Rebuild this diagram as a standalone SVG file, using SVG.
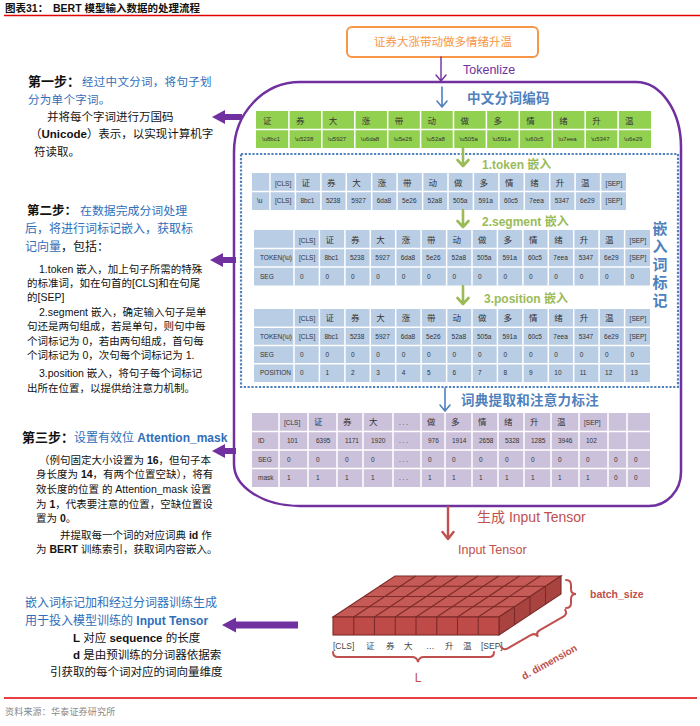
<svg xmlns="http://www.w3.org/2000/svg" width="700" height="726" viewBox="0 0 700 726">
<style>
text{font-family:"Liberation Sans","Noto Sans CJK SC",sans-serif;}
.s{font-size:6.5px;fill:#333;}
.xs{font-size:6px;fill:#333;}
.h{font-size:8.5px;fill:#333;}
.grid{stroke:#fff;stroke-width:1.5;}
.blue{fill:#2F6EBA;}
.body{font-size:10.5px;fill:#111;}
.hd{font-size:12px;}
.tc{stroke:#7B2B29;stroke-width:1.1;}
</style>
<rect width="700" height="726" fill="#fff"/>
<g id="header">
<text x="5" y="12" font-size="10.5" font-weight="bold" fill="#111">图表31：<tspan x="53">BERT 模型输入数据的处理流程</tspan></text>
<line x1="4" y1="15.5" x2="700" y2="15.5" stroke="#E00000" stroke-width="1.5"/>
</g>
<g id="source">
<line x1="4" y1="698" x2="697" y2="698" stroke="#E00000" stroke-width="1.5"/>
<text x="5" y="715" font-size="9" fill="#888" letter-spacing="0.2">资料来源：华泰证券研究所</text>
</g>
<g id="input-sentence">
<rect x="347" y="27" width="191" height="30" rx="5" fill="#fff" stroke="#F79646" stroke-width="2"/>
<text x="443" y="46" font-size="11.5" fill="#F79646" text-anchor="middle">证券大涨带动做多情绪升温</text>
</g>
<g id="process-box">
<path d="M300,82 L636,82 A45,65 0 0 1 681,147 L681,472 A32,34 0 0 1 649,506 L300,506 A66,42 0 0 1 234,464 L234,152 A66,70 0 0 1 300,82 Z" fill="none" stroke="#7030A0" stroke-width="2.5"/>
<rect x="241" y="154" width="437" height="233" fill="none" stroke="#4F81BD" stroke-width="2.2" stroke-dasharray="2.2 1.6"/>
<text x="463" y="74" font-size="12.5" fill="#7030A0">Tokenlize</text>
<text x="467" y="103" font-size="13.5" fill="#4F81BD" font-weight="bold" letter-spacing="0.3">中文分词编码</text>
<text x="461" y="405" font-size="13.5" fill="#4F81BD" font-weight="bold" letter-spacing="0.3">词典提取和注意力标注</text>
<text x="482" y="169" font-size="12" fill="#9BBB59" font-weight="bold">1.token 嵌入</text>
<text x="482" y="226" font-size="12" fill="#9BBB59" font-weight="bold">2.segment 嵌入</text>
<text x="484" y="303" font-size="12" fill="#9BBB59" font-weight="bold">3.position 嵌入</text>
<text font-size="15" fill="#4F81BD" font-weight="bold" text-anchor="middle"><tspan x="660" y="234">嵌</tspan><tspan x="660" y="252">入</tspan><tspan x="660" y="270">词</tspan><tspan x="660" y="288">标</tspan><tspan x="660" y="306">记</tspan></text>
<text x="477" y="522" font-size="14" fill="#C0504D">生成 Input Tensor</text>
<text x="458" y="554" font-size="12.5" fill="#C0504D">Input Tensor</text>
</g>
<g id="unicode-table">
<rect x="256" y="111" width="395" height="37" fill="#92D050"/>
<g class="grid">
<line x1="256" y1="129.5" x2="651" y2="129.5"/>
<path d="M288.9,111V148M321.8,111V148M354.8,111V148M387.7,111V148M420.6,111V148M453.5,111V148M486.4,111V148M519.3,111V148M552.3,111V148M585.2,111V148M618.1,111V148"/>
</g>
<text class="h" y="123.5"><tspan x="263">证</tspan><tspan x="295.9">券</tspan><tspan x="328.8">大</tspan><tspan x="361.8">涨</tspan><tspan x="394.7">带</tspan><tspan x="427.6">动</tspan><tspan x="460.5">做</tspan><tspan x="493.4">多</tspan><tspan x="526.3">情</tspan><tspan x="559.3">绪</tspan><tspan x="592.2">升</tspan><tspan x="625.1">温</tspan></text>
<text class="xs" y="141"><tspan x="262">\u8bc1</tspan><tspan x="294.9">\u5238</tspan><tspan x="327.8">\u5927</tspan><tspan x="360.8">\u6da8</tspan><tspan x="393.7">\u5e26</tspan><tspan x="426.6">\u52a8</tspan><tspan x="459.5">\u505a</tspan><tspan x="492.4">\u591a</tspan><tspan x="525.3">\u60c5</tspan><tspan x="558.3">\u7eea</tspan><tspan x="591.2">\u5347</tspan><tspan x="624.1">\u6e29</tspan></text>
</g>
<g id="token-table">
<rect x="252" y="173" width="374" height="37" fill="#B9CDE5"/>
<g class="grid">
<line x1="252" y1="191.5" x2="626" y2="191.5"/>
<path d="M270,173V210M295.4,173V210M320.9,173V210M346.3,173V210M371.7,173V210M397.1,173V210M422.6,173V210M448,173V210M473.4,173V210M498.9,173V210M524.3,173V210M549.7,173V210M575.1,173V210M600.6,173V210"/>
</g>
<text class="s" x="275" y="185.5">[CLS]</text>
<text class="h" y="186"><tspan x="301.4">证</tspan><tspan x="326.9">券</tspan><tspan x="352.3">大</tspan><tspan x="377.7">涨</tspan><tspan x="403.1">带</tspan><tspan x="428.6">动</tspan><tspan x="454">做</tspan><tspan x="479.4">多</tspan><tspan x="504.9">情</tspan><tspan x="530.3">绪</tspan><tspan x="555.7">升</tspan><tspan x="581.1">温</tspan></text>
<text class="s" x="605.6" y="185.5">[SEP]</text>
<text class="s" y="203"><tspan x="257">\u</tspan><tspan x="275">[CLS]</tspan><tspan x="300.4">8bc1</tspan><tspan x="325.9">5238</tspan><tspan x="351.3">5927</tspan><tspan x="376.7">6da8</tspan><tspan x="402.1">5e26</tspan><tspan x="427.6">52a8</tspan><tspan x="453">505a</tspan><tspan x="478.4">591a</tspan><tspan x="503.9">60c5</tspan><tspan x="529.3">7eea</tspan><tspan x="554.7">5347</tspan><tspan x="580.1">6e29</tspan><tspan x="605.6">[SEP]</tspan></text>
</g>
<g id="segment-table">
<rect x="254" y="230" width="396" height="55.5" fill="#B9CDE5"/>
<g class="grid">
<path d="M254,248.5H650M254,267H650"/>
<path d="M294,230V285.5M319.4,230V285.5M344.9,230V285.5M370.3,230V285.5M395.7,230V285.5M421.1,230V285.5M446.6,230V285.5M472,230V285.5M497.4,230V285.5M522.9,230V285.5M548.3,230V285.5M573.7,230V285.5M599.1,230V285.5M624.6,230V285.5"/>
</g>
<text class="s" x="299" y="242.5">[CLS]</text>
<text class="h" y="243"><tspan x="325.4">证</tspan><tspan x="350.9">券</tspan><tspan x="376.3">大</tspan><tspan x="401.7">涨</tspan><tspan x="427.1">带</tspan><tspan x="452.6">动</tspan><tspan x="478">做</tspan><tspan x="503.4">多</tspan><tspan x="528.9">情</tspan><tspan x="554.3">绪</tspan><tspan x="579.7">升</tspan><tspan x="605.1">温</tspan></text>
<text class="s" x="629.6" y="242.5">[SEP]</text>
<text class="s" y="260"><tspan x="260">TOKEN(\u)</tspan><tspan x="299">[CLS]</tspan><tspan x="324.4">8bc1</tspan><tspan x="349.9">5238</tspan><tspan x="375.3">5927</tspan><tspan x="400.7">6da8</tspan><tspan x="426.1">5e26</tspan><tspan x="451.6">52a8</tspan><tspan x="477">505a</tspan><tspan x="502.4">591a</tspan><tspan x="527.9">60c5</tspan><tspan x="553.3">7eea</tspan><tspan x="578.7">5347</tspan><tspan x="604.1">6e29</tspan><tspan x="629.6">[SEP]</tspan></text>
<text class="s" y="278.5"><tspan x="260">SEG</tspan><tspan x="300">0</tspan><tspan x="325.4">0</tspan><tspan x="350.9">0</tspan><tspan x="376.3">0</tspan><tspan x="401.7">0</tspan><tspan x="427.1">0</tspan><tspan x="452.6">0</tspan><tspan x="478">0</tspan><tspan x="503.4">0</tspan><tspan x="528.9">0</tspan><tspan x="554.3">0</tspan><tspan x="579.7">0</tspan><tspan x="605.1">0</tspan><tspan x="630.6">0</tspan></text>
</g>
<g id="position-table">
<rect x="254" y="309" width="396" height="73" fill="#B9CDE5"/>
<g class="grid">
<path d="M254,327.25H650M254,345.5H650M254,363.75H650"/>
<path d="M294,309V382M319.4,309V382M344.9,309V382M370.3,309V382M395.7,309V382M421.1,309V382M446.6,309V382M472,309V382M497.4,309V382M522.9,309V382M548.3,309V382M573.7,309V382M599.1,309V382M624.6,309V382"/>
</g>
<text class="s" x="299" y="320.6">[CLS]</text>
<text class="h" y="321.2"><tspan x="325.4">证</tspan><tspan x="350.9">券</tspan><tspan x="376.3">大</tspan><tspan x="401.7">涨</tspan><tspan x="427.1">带</tspan><tspan x="452.6">动</tspan><tspan x="478">做</tspan><tspan x="503.4">多</tspan><tspan x="528.9">情</tspan><tspan x="554.3">绪</tspan><tspan x="579.7">升</tspan><tspan x="605.1">温</tspan></text>
<text class="s" x="629.6" y="320.6">[SEP]</text>
<text class="s" y="338.9"><tspan x="260">TOKEN(\u)</tspan><tspan x="299">[CLS]</tspan><tspan x="324.4">8bc1</tspan><tspan x="349.9">5238</tspan><tspan x="375.3">5927</tspan><tspan x="400.7">6da8</tspan><tspan x="426.1">5e26</tspan><tspan x="451.6">52a8</tspan><tspan x="477">505a</tspan><tspan x="502.4">591a</tspan><tspan x="527.9">60c5</tspan><tspan x="553.3">7eea</tspan><tspan x="578.7">5347</tspan><tspan x="604.1">6e29</tspan><tspan x="629.6">[SEP]</tspan></text>
<text class="s" y="357.1"><tspan x="260">SEG</tspan><tspan x="300">0</tspan><tspan x="325.4">0</tspan><tspan x="350.9">0</tspan><tspan x="376.3">0</tspan><tspan x="401.7">0</tspan><tspan x="427.1">0</tspan><tspan x="452.6">0</tspan><tspan x="478">0</tspan><tspan x="503.4">0</tspan><tspan x="528.9">0</tspan><tspan x="554.3">0</tspan><tspan x="579.7">0</tspan><tspan x="605.1">0</tspan><tspan x="630.6">0</tspan></text>
<text class="s" y="375.4"><tspan x="260">POSITION</tspan><tspan x="300">0</tspan><tspan x="325.4">1</tspan><tspan x="350.9">2</tspan><tspan x="376.3">3</tspan><tspan x="401.7">4</tspan><tspan x="427.1">5</tspan><tspan x="452.6">6</tspan><tspan x="478">7</tspan><tspan x="503.4">8</tspan><tspan x="528.9">9</tspan><tspan x="554.3">10</tspan><tspan x="579.7">11</tspan><tspan x="605.1">12</tspan><tspan x="630.6">13</tspan></text>
</g>
<g id="attention-table">
<rect x="252" y="413" width="398" height="74" fill="#CCC1DA"/>
<g class="grid">
<path d="M252,431.5H650M252,450H650M252,468.5H650"/>
<path d="M279,413V487M308,413V487M337,413V487M363,413V487M393,413V487M421,413V487M445,413V487M472,413V487M498,413V487M524,413V487M551,413V487M579,413V487M608,413V487M627,413V487"/>
</g>
<text class="s" x="284" y="424.8">[CLS]</text>
<text class="h" y="425.3"><tspan x="314">证</tspan><tspan x="343">券</tspan><tspan x="369">大</tspan></text>
<text class="s" x="399" y="425">. . .</text>
<text class="h" y="425.3"><tspan x="427">做</tspan><tspan x="451">多</tspan><tspan x="478">情</tspan><tspan x="504">绪</tspan><tspan x="530">升</tspan><tspan x="557">温</tspan></text>
<text class="s" x="584" y="424.8">[SEP]</text>
<text class="s" y="443.2"><tspan x="258">ID</tspan><tspan x="287">101</tspan><tspan x="316">6395</tspan><tspan x="345">1171</tspan><tspan x="371">1920</tspan><tspan x="399">. . .</tspan><tspan x="428">976</tspan><tspan x="452">1914</tspan><tspan x="479">2658</tspan><tspan x="505">5328</tspan><tspan x="531">1285</tspan><tspan x="558">3946</tspan><tspan x="586">102</tspan></text>
<text class="s" y="461.7"><tspan x="258">SEG</tspan><tspan x="287">0</tspan><tspan x="316">0</tspan><tspan x="345">0</tspan><tspan x="371">0</tspan><tspan x="399">. . .</tspan><tspan x="428">0</tspan><tspan x="452">0</tspan><tspan x="479">0</tspan><tspan x="505">0</tspan><tspan x="531">0</tspan><tspan x="558">0</tspan><tspan x="586">0</tspan><tspan x="614">0</tspan><tspan x="634">0</tspan></text>
<text class="s" y="480.2"><tspan x="258">mask</tspan><tspan x="287">1</tspan><tspan x="316">1</tspan><tspan x="345">1</tspan><tspan x="371">1</tspan><tspan x="399">. . .</tspan><tspan x="428">1</tspan><tspan x="452">1</tspan><tspan x="479">1</tspan><tspan x="505">1</tspan><tspan x="531">1</tspan><tspan x="558">1</tspan><tspan x="586">1</tspan><tspan x="614">0</tspan><tspan x="634">0</tspan></text>
</g>
<g id="connectors" fill="none" stroke-linecap="round" stroke-linejoin="round">
<path d="M441,57V81M436,75L441,81L446,75" stroke="#7030A0" stroke-width="1.4"/>
<path d="M442,87V107M437,101L442,107L447,101" stroke="#4F81BD" stroke-width="1.6"/>
<path d="M463,148V166M457.5,160L463,166L468.5,160" stroke="#9BBB59" stroke-width="2.6"/>
<path d="M463,210V227M457.5,221L463,227L468.5,221" stroke="#9BBB59" stroke-width="2.6"/>
<path d="M463,286V304M457.5,298L463,304L468.5,298" stroke="#9BBB59" stroke-width="2.6"/>
<path d="M445,388V411M440,405L445,411L450,405" stroke="#4F81BD" stroke-width="1.6"/>
<path d="M448,507V539M442.5,532L448,539L453.5,532" stroke="#C0504D" stroke-width="2.4"/>
<g fill="#7030A0" stroke="none">
<polygon points="212,117 225,110 225,114 242,114 242,120 225,120 225,124"/>
<polygon points="210,260 223,253 223,257 236,257 236,263 223,263 223,267"/>
<polygon points="212,451 225,444 225,448 236,448 236,454 225,454 225,458"/>
<polygon points="222,625 236,617.5 236,621.5 298,621.5 298,628.5 236,628.5 236,632.5"/>
</g>
</g>
<g id="step1">
<text y="86"><tspan x="28" font-size="13" font-weight="bold" fill="#111">第一步：</tspan><tspan x="82" font-size="11.5" fill="#2F6EBA" letter-spacing="0.3">经过中文分词，将句子划</tspan></text>
<text x="28" y="104" font-size="11.5" fill="#2F6EBA" letter-spacing="0.3">分为单个字词。</text>
<text x="47" y="121" font-size="11.5" fill="#111">并将每个字词进行万国码</text>
<text x="30" y="138" font-size="11.5" fill="#111">（<tspan font-weight="bold">Unicode</tspan>）表示，以实现计算机字</text>
<text x="34" y="156" font-size="11.5" fill="#111">符读取。</text>
</g>
<g id="step2">
<text y="215"><tspan x="27" font-size="12.5" font-weight="bold" fill="#111">第二步：</tspan><tspan x="80" font-size="11.9" fill="#2F6EBA">在数据完成分词处理</tspan></text>
<text x="25" y="233" font-size="12" fill="#2F6EBA">后，将进行词标记嵌入，获取标</text>
<text x="25" y="251" font-size="12"><tspan fill="#2F6EBA">记向量</tspan><tspan fill="#111">，包括：</tspan></text>
<text class="body" x="39" y="273">1.token 嵌入，加上句子所需的特殊</text>
<text class="body" x="27" y="287" font-size="10.2">的标准词，如在句首的[CLS]和在句尾</text>
<text class="body" x="27" y="301">的[SEP]</text>
<text class="body" x="39" y="316">2.segment 嵌入，确定输入句子是单</text>
<text class="body" x="27" y="330">句还是两句组成，若是单句，则句中每</text>
<text class="body" x="27" y="345">个词标记为 0，若由两句组成，首句每</text>
<text class="body" x="27" y="359">个词标记为 0，次句每个词标记为 1.</text>
<text class="body" x="39" y="377">3.position 嵌入，将句子每个词标记</text>
<text class="body" x="27" y="392">出所在位置，以提供给注意力机制。</text>
</g>
<g id="step3">
<text y="442"><tspan x="22" font-size="13" font-weight="bold" fill="#111">第三步：</tspan><tspan x="74" font-size="12" fill="#2F6EBA">设置有效位 </tspan><tspan font-size="12" font-weight="bold" fill="#2F6EBA">Attention_mask</tspan></text>
<text class="body" x="39" y="464">（例句固定大小设置为 <tspan font-weight="bold">16</tspan>，但句子本</text>
<text class="body" x="36" y="478">身长度为 <tspan font-weight="bold">14</tspan>，有两个位置空缺），将有</text>
<text class="body" x="36" y="493">效长度的位置 的 Attention_mask 设置</text>
<text class="body" x="36" y="508">为 <tspan font-weight="bold">1</tspan>，代表要注意的位置，空缺位置设</text>
<text class="body" x="36" y="522">置为 <tspan font-weight="bold">0</tspan>。</text>
<text class="body" x="60" y="539">并提取每一个词的对应词典 <tspan font-weight="bold">id</tspan> 作</text>
<text class="body" x="36" y="553">为 <tspan font-weight="bold">BERT</tspan> 训练索引，获取词内容嵌入。</text>
</g>
<g id="step4">
<text x="25" y="607" font-size="12" fill="#2F6EBA">嵌入词标记加和经过分词器训练生成</text>
<text x="25" y="625" font-size="12" fill="#2F6EBA">用于投入模型训练的 <tspan font-weight="bold">Input Tensor</tspan></text>
<text x="73" y="642" font-size="11.5" fill="#111"><tspan font-weight="bold">L</tspan> 对应 <tspan font-weight="bold">sequence</tspan> 的长度</text>
<text x="73" y="659" font-size="11.5" fill="#111"><tspan font-weight="bold">d</tspan> 是由预训练的分词器依据索</text>
<text x="50" y="676" font-size="11.5" fill="#111">引获取的每个词对应的词向量维度</text>
</g>
<g id="tensor">
<polygon points="333,617 499,617 561,576 395,576" fill="#C55A56" class="tc"/>
<polygon points="499,617 561,576 561,594 499,635" fill="#A94340" class="tc"/>
<rect x="333" y="617" width="166" height="18" fill="#BE4B48" class="tc"/>
<g class="tc" fill="none">
<path d="M353.75,617V635M374.5,617V635M395.25,617V635M416,617V635M436.75,617V635M457.5,617V635M478.25,617V635"/>
<path d="M353.75,617L415.75,576M374.5,617L436.5,576M395.25,617L457.25,576M416,617L478,576M436.75,617L498.75,576M457.5,617L519.5,576M478.25,617L540.25,576"/>
<path d="M348.5,606.75H514.5M364,596.5H530M379.5,586.25H545.5"/>
<path d="M514.5,606.75V624.75M530,596.5V614.5M545.5,586.25V604.25"/>
</g>
<text font-size="8.5" fill="#444" y="649"><tspan x="333">[CLS]</tspan><tspan x="366">证</tspan><tspan x="386">券</tspan><tspan x="404">大</tspan><tspan x="426">…</tspan><tspan x="445">升</tspan><tspan x="463">温</tspan><tspan x="481">[SEP]</tspan></text>
<g fill="none" stroke="#C0504D" stroke-width="2" stroke-linecap="round">
<path d="M333,652Q333,657 338,657L412,657Q417,657 418,662Q419,657 424,657L489,657Q494,657 494,652"/>
<path d="M566,580Q571,580 571,585L571,589Q571,594 576,594Q571,594 571,599L571,603Q571,608 566,608"/>
<path transform="translate(535.5,632.5) rotate(-29.7)" d="M-37,-5Q-37,0 -32,0L-5,0Q0,0 0,5Q0,0 5,0L32,0Q37,0 37,-5"/>
</g>
<text x="418" y="682" font-size="12" fill="#C0504D" text-anchor="middle">L</text>
<text x="590" y="598" font-size="10.5" font-weight="bold" fill="#C0504D">batch_size</text>
<text transform="translate(524,680) rotate(-29)" font-size="10" font-weight="bold" fill="#C0504D">d. dimension</text>
</g>
</svg>
